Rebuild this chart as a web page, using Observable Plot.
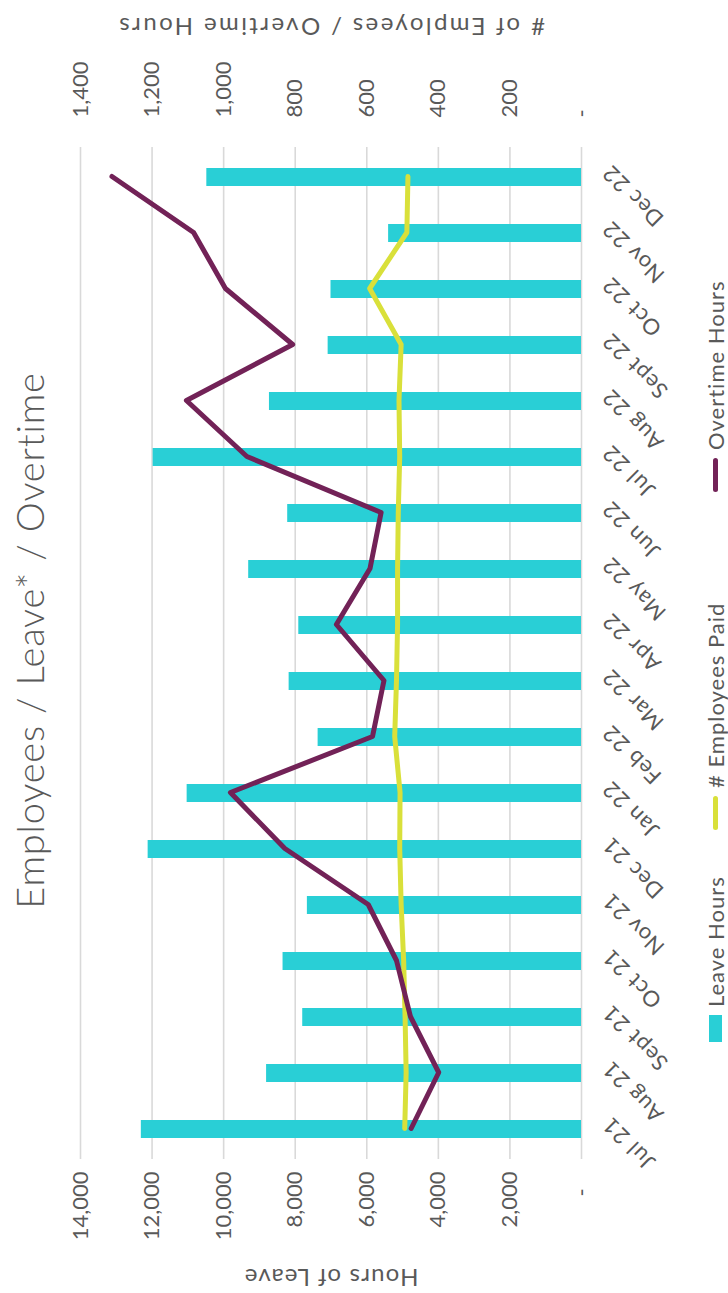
<!DOCTYPE html>
<html>
<head>
<meta charset="utf-8">
<script src="https://cdn.jsdelivr.net/npm/d3@7"></script>
<script src="https://cdn.jsdelivr.net/npm/@observablehq/plot@0.6"></script>
<style>
  html, body { margin: 0; padding: 0; background: #fff; }
  body { width: 728px; height: 1293px; overflow: hidden; position: relative; }
  /* The chart is laid out landscape, then turned a quarter turn counter-clockwise */
  #chart {
    position: absolute; left: 0; top: 0;
    width: 1293px; height: 728px;
    transform-origin: 0 0;
    transform: translateY(1293px) rotate(-90deg);
    font-family: Lato, "Open Sans", sans-serif;
    color: #595959;
    background: #fff;
  }
  #title {
    height: 58px; display: flex; align-items: center; justify-content: center;
    padding-left: 12px; box-sizing: border-box;
    font-size: 38px; font-weight: 300; letter-spacing: 0.8px;
  }
  #chart svg { display: block; }
  #legend { position: relative; height: 33px; font-size: 22px; letter-spacing: 1px; }
  .item { position: absolute; top: 8px; height: 25px; display: flex; align-items: center; gap: 8px; white-space: nowrap; }
  .swatch-bar { width: 27px; height: 13px; }
  .swatch-line { width: 34px; height: 5px; border-radius: 3px; }
</style>
</head>
<body>
<div id="chart"></div>
<script>
// Monthly figures, Jul 2021 – Dec 2022
const months = ["Jul 21", "Aug 21", "Sept 21", "Oct 21", "Nov 21", "Dec 21",
                "Jan 22", "Feb 22", "Mar 22", "Apr 22", "May 22", "Jun 22",
                "Jul 22", "Aug 22", "Sept 22", "Oct 22", "Nov 22", "Dec 22"];
const leaveHours    = [12300, 8800, 7790, 8340, 7660, 12110, 11020, 7360, 8170,
                       7900, 9300, 8210, 11970, 8720, 7080, 7000, 5390, 10470];
const employeesPaid = [494, 490, 493, 497, 504, 508, 507, 522, 517,
                       514, 514, 512, 508, 510, 504, 592, 488, 485];
const overtimeHours = [476, 399, 478, 517, 596, 829, 981, 584, 552,
                       685, 591, 560, 935, 1104, 807, 995, 1084, 1312];

const leftTicks  = [0, 2000, 4000, 6000, 8000, 10000, 12000, 14000];
const rightTicks = [0, 200, 400, 600, 800, 1000, 1200, 1400];

const titleText      = "Employees / Leave* / Overtime";
const leftAxisTitle  = "Hours of Leave";
const rightAxisTitle = "# of Employees / Overtime Hours";
const seriesNames    = ["Leave Hours", "# Employees Paid", "Overtime Hours"];
const seriesColors   = ["#29CFD6", "#D9E03A", "#722257"];

const rows = months.map((month, i) => ({
  month,
  leave: leaveHours[i],
  employees: employeesPaid[i],
  overtime: overtimeHours[i]
}));

// The secondary axis (0–1,400) shares the primary scale (0–14,000)
const RATIO = 10;
const comma = d3.format(",");
const leftFmt  = v => v === 0 ? "-\u00a0\u00a0\u00a0" : comma(v);
const rightFmt = v => v === 0 ? "-" : comma(v);

const chart = document.getElementById("chart");

const title = document.createElement("div");
title.id = "title";
title.textContent = titleText;
chart.appendChild(title);

const svg = Plot.plot({
  width: 1293,
  height: 637,
  marginTop: 22,
  marginBottom: 114,
  marginLeft: 134,
  marginRight: 147,
  style: { fontFamily: "Lato, 'Open Sans', sans-serif", fontSize: "22px", color: "#595959",
           background: "transparent", overflow: "visible" },
  x: { type: "band", domain: months, paddingInner: 0.68, paddingOuter: 0.34 },
  y: { domain: [0, 14000] },
  marks: [
    Plot.gridY(leftTicks, { stroke: "#d9d9d9", strokeOpacity: 1, strokeWidth: 1.6 }),
    Plot.barY(rows, { x: "month", y: "leave", fill: seriesColors[0] }),
    Plot.line(rows, { x: "month", y: d => d.employees * RATIO, stroke: seriesColors[1],
                      strokeWidth: 5, strokeLinecap: "round", strokeLinejoin: "round" }),
    Plot.line(rows, { x: "month", y: d => d.overtime * RATIO, stroke: seriesColors[2],
                      strokeWidth: 5, strokeLinecap: "round", strokeLinejoin: "round" }),
    Plot.axisY(leftTicks, { anchor: "left", tickSize: 0, tickPadding: 13, tickFormat: leftFmt,
                            label: null, fill: "#595959" }),
    Plot.axisY(rightTicks.map(v => v * RATIO), { anchor: "right", tickSize: 0, tickPadding: 29,
                            tickFormat: v => rightFmt(v / RATIO), label: null, fill: "#595959" }),
    Plot.axisX({ tickSize: 0, tickPadding: 25, dx: 8, tickRotate: -45, label: null, fill: "#595959" }),
    Plot.text([leftAxisTitle], { text: d => d, frameAnchor: "left", dx: -118, rotate: -90,
                                 textAnchor: "middle", fontSize: 24, fill: "#595959" }),
    Plot.text([rightAxisTitle], { text: d => d, frameAnchor: "right", dx: 121, rotate: -90,
                                  textAnchor: "middle", fontSize: 24, fill: "#595959" })
  ]
});
// Tracking for the axis titles and month labels
const spacing = new Map([[leftAxisTitle, "1.2px"], [rightAxisTitle, "2.4px"]]);
svg.querySelectorAll("text").forEach(t => {
  const s = t.textContent;
  if (spacing.has(s)) {
    t.setAttribute("letter-spacing", spacing.get(s));
    t.style.letterSpacing = spacing.get(s);
  } else if (months.includes(s)) {
    t.style.letterSpacing = "1px";
  }
});
chart.appendChild(svg);

// Legend row beneath the plot
const legendStarts = [251, 463, 801];
const legend = document.createElement("div");
legend.id = "legend";
seriesNames.forEach((name, i) => {
  const item = document.createElement("div");
  item.className = "item";
  item.style.left = legendStarts[i] + "px";
  const sw = document.createElement("span");
  sw.className = i === 0 ? "swatch-bar" : "swatch-line";
  sw.style.background = seriesColors[i];
  const label = document.createElement("span");
  label.textContent = name;
  item.appendChild(sw);
  item.appendChild(label);
  legend.appendChild(item);
});
chart.appendChild(legend);
</script>
</body>
</html>
